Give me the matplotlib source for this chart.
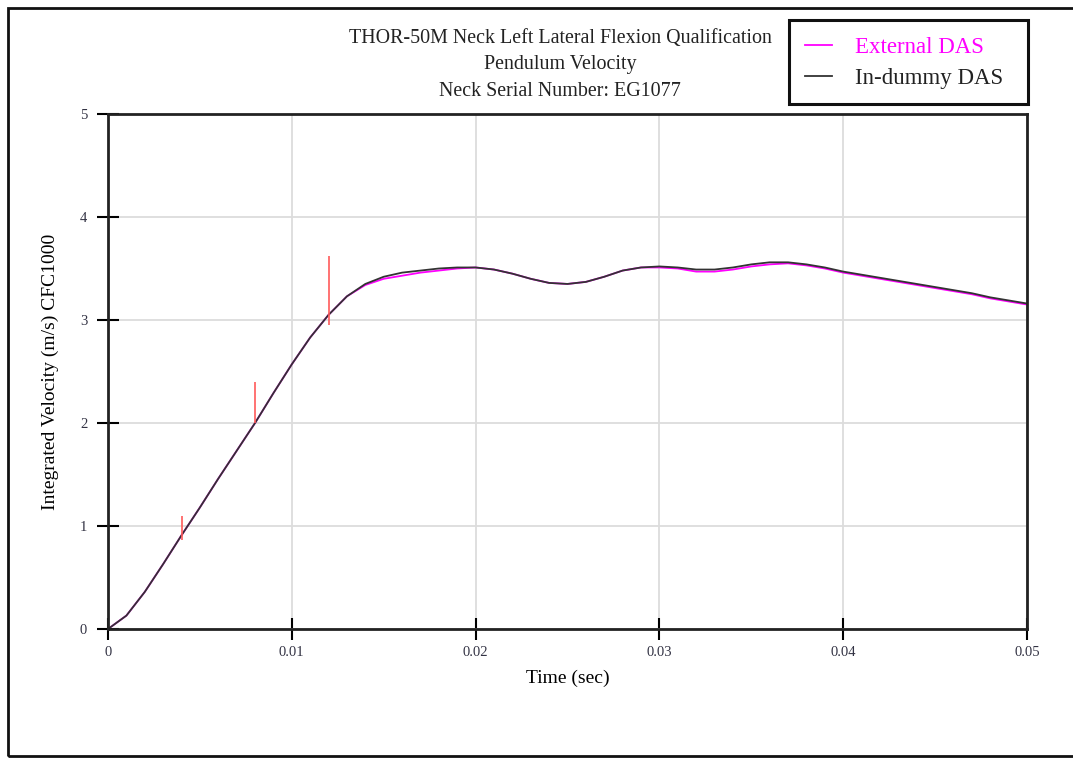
import matplotlib
matplotlib.use('Agg')
import matplotlib.pyplot as plt
from matplotlib.patches import Rectangle

plt.rcParams['font.family'] = ['Liberation Serif', 'DejaVu Serif']

# time axis (sec) and velocity traces (m/s)
time = [i / 1000 for i in range(51)]
in_dummy = [0.00, 0.13, 0.36, 0.63, 0.91, 1.18, 1.46, 1.73, 2.00, 2.29,
            2.57, 2.83, 3.05, 3.23, 3.35, 3.42, 3.46, 3.48, 3.50, 3.51,
            3.51, 3.49, 3.45, 3.40, 3.36, 3.35, 3.37, 3.42, 3.48, 3.51,
            3.52, 3.51, 3.49, 3.49, 3.51, 3.54, 3.56, 3.56, 3.54, 3.51,
            3.47, 3.44, 3.41, 3.38, 3.35, 3.32, 3.29, 3.26, 3.22, 3.19,
            3.16]
external = [0.00, 0.13, 0.36, 0.63, 0.91, 1.18, 1.46, 1.73, 2.00, 2.29,
            2.57, 2.83, 3.05, 3.23, 3.34, 3.40, 3.43, 3.46, 3.48, 3.50,
            3.51, 3.49, 3.45, 3.40, 3.36, 3.35, 3.37, 3.42, 3.48, 3.51,
            3.51, 3.50, 3.47, 3.47, 3.49, 3.52, 3.54, 3.55, 3.53, 3.50,
            3.46, 3.43, 3.40, 3.37, 3.34, 3.31, 3.28, 3.25, 3.21, 3.18,
            3.15]

# red marker lines
marker_t = [0.004, 0.008, 0.012]
marker_lo = [0.86, 2.00, 2.95]
marker_hi = [1.10, 2.40, 3.62]

W, H = 1073, 758
fig = plt.figure(figsize=(W / 100, H / 100), dpi=100)
ax = fig.add_axes([108 / W, 1 - 629 / H, (1027 - 108) / W, (629 - 114) / H])

ax.plot(time, external, color='#ff00ff', lw=1.3, label='External DAS')
ax.plot(time, in_dummy, color='#333333', lw=1.3, label='In-dummy DAS')
ax.vlines(marker_t, marker_lo, marker_hi, color='#ff5a5a', lw=1.2)

ax.set_xlim(0, 0.05)
ax.set_ylim(0, 5)
ax.set_xticks([0, 0.01, 0.02, 0.03, 0.04, 0.05])
ax.set_xticklabels(['0', '0.01', '0.02', '0.03', '0.04', '0.05'])
ax.set_yticks([0, 1, 2, 3, 4, 5])
ax.grid(True, color='#dcdcdc', lw=1.3)
ax.set_axisbelow(True)
for s in ax.spines.values():
    s.set_linewidth(2)
    s.set_color('#222222')
ax.tick_params(direction='inout', length=16, width=1.5, labelsize=10.5,
               labelcolor='#333344')
ax.tick_params(axis='y', pad=7)
ax.tick_params(axis='x', pad=4)

ax.set_xlabel('Time (sec)', fontsize=14, labelpad=8)
ax.set_ylabel('Integrated Velocity (m/s) CFC1000', fontsize=14, labelpad=15)

fig.text(560 / W, 1 - 38 / H, 'THOR-50M Neck Left Lateral Flexion Qualification',
         ha='center', va='center', fontsize=14.4, color='#222222')
fig.text(560 / W, 1 - 64 / H, 'Pendulum Velocity',
         ha='center', va='center', fontsize=14.4, color='#222222')
fig.text(560 / W, 1 - 91 / H, 'Neck Serial Number: EG1077',
         ha='center', va='center', fontsize=14.4, color='#222222')

# legend frame drawn separately so its size matches
fig.patches.append(Rectangle((789 / W, 1 - 104 / H), (1028 - 789) / W, 84 / H,
                             transform=fig.transFigure, fill=True,
                             facecolor='white', lw=2.2, edgecolor='#111111',
                             zorder=5))
leg = fig.legend(loc='center left', bbox_to_anchor=(800 / W, 1 - 63 / H),
                 borderaxespad=0, fontsize=16.5, frameon=False,
                 handlelength=1.2, handletextpad=1.0,
                 borderpad=0.2, labelspacing=0.45)
leg.set_zorder(6)
leg.get_texts()[0].set_color('#ff00ff')
leg.get_texts()[1].set_color('#222222')

# outer page border
fig.patches.append(Rectangle((8 / W, 2 / H), 1.2, 748 / H,
                             transform=fig.transFigure, fill=False,
                             lw=2, edgecolor='#111111'))

fig.savefig('out.png', dpi=100)
